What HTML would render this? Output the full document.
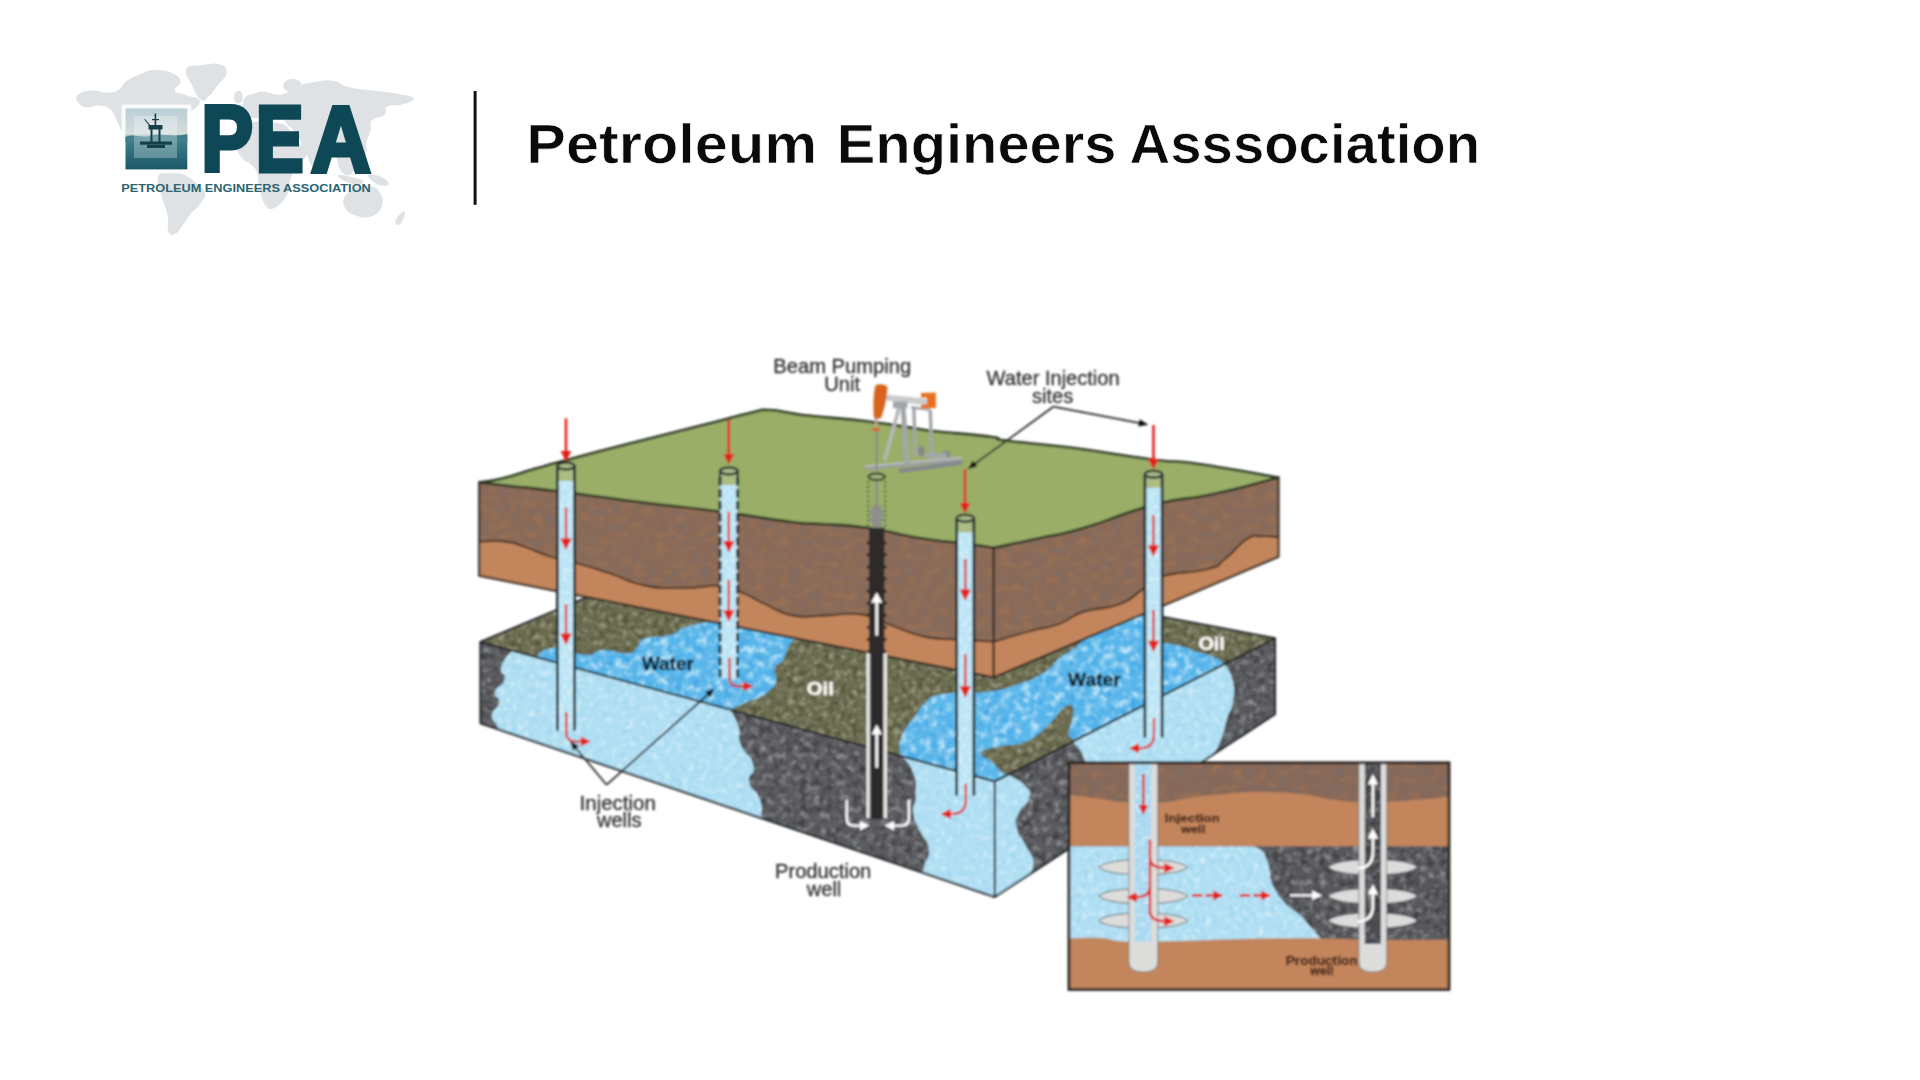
<!DOCTYPE html>
<html lang="en">
<head>
<meta charset="utf-8">
<title>Petroleum Engineers Asssociation</title>
<style>
html,body{margin:0;padding:0;background:#ffffff;}
body{width:1920px;height:1080px;overflow:hidden;font-family:"Liberation Sans",sans-serif;}
svg{display:block;position:absolute;left:0;top:0;}
</style>
</head>
<body>
<svg width="1920" height="1080" viewBox="0 0 1920 1080">
<defs><filter id="fBrown" x="-2%" y="-2%" width="104%" height="104%" color-interpolation-filters="sRGB"><feTurbulence type="fractalNoise" baseFrequency="0.09 0.13" numOctaves="3" seed="4" result="n"/><feColorMatrix in="n" type="matrix" values="0 0 0 0 0 0 0 0 0 0 0 0 0 0 0 2.2 0 0 0 -1.0" result="a"/><feFlood flood-color="#7d6d66" result="c"/><feComposite in="c" in2="a" operator="in" result="s1"/><feColorMatrix in="n" type="matrix" values="0 0 0 0 0 0 0 0 0 0 0 0 0 0 0 0 2.2 0 0 -1.05" result="a2"/><feFlood flood-color="#a07253" result="c2"/><feComposite in="c2" in2="a2" operator="in" result="s2"/><feMerge result="m"><feMergeNode in="SourceGraphic"/><feMergeNode in="s1"/><feMergeNode in="s2"/></feMerge><feComposite in="m" in2="SourceGraphic" operator="in"/></filter><filter id="fOlive" x="-2%" y="-2%" width="104%" height="104%" color-interpolation-filters="sRGB"><feTurbulence type="fractalNoise" baseFrequency="0.17" numOctaves="3" seed="7" result="n"/><feColorMatrix in="n" type="matrix" values="0 0 0 0 0 0 0 0 0 0 0 0 0 0 0 2.6 0 0 0 -1.2" result="a"/><feFlood flood-color="#a3a48c" result="c"/><feComposite in="c" in2="a" operator="in" result="s1"/><feColorMatrix in="n" type="matrix" values="0 0 0 0 0 0 0 0 0 0 0 0 0 0 0 0 2.4 0 0 -1.15" result="a2"/><feFlood flood-color="#4b4c36" result="c2"/><feComposite in="c2" in2="a2" operator="in" result="s2"/><feMerge result="m"><feMergeNode in="SourceGraphic"/><feMergeNode in="s1"/><feMergeNode in="s2"/></feMerge><feComposite in="m" in2="SourceGraphic" operator="in"/></filter><filter id="fGray" x="-2%" y="-2%" width="104%" height="104%" color-interpolation-filters="sRGB"><feTurbulence type="fractalNoise" baseFrequency="0.15" numOctaves="3" seed="11" result="n"/><feColorMatrix in="n" type="matrix" values="0 0 0 0 0 0 0 0 0 0 0 0 0 0 0 2.6 0 0 0 -1.22" result="a"/><feFlood flood-color="#96989d" result="c"/><feComposite in="c" in2="a" operator="in" result="s1"/><feColorMatrix in="n" type="matrix" values="0 0 0 0 0 0 0 0 0 0 0 0 0 0 0 0 2.4 0 0 -1.1" result="a2"/><feFlood flood-color="#38393c" result="c2"/><feComposite in="c2" in2="a2" operator="in" result="s2"/><feMerge result="m"><feMergeNode in="SourceGraphic"/><feMergeNode in="s1"/><feMergeNode in="s2"/></feMerge><feComposite in="m" in2="SourceGraphic" operator="in"/></filter><filter id="fBlue" x="-2%" y="-2%" width="104%" height="104%" color-interpolation-filters="sRGB"><feTurbulence type="fractalNoise" baseFrequency="0.13" numOctaves="3" seed="5" result="n"/><feColorMatrix in="n" type="matrix" values="0 0 0 0 0 0 0 0 0 0 0 0 0 0 0 2.8 0 0 0 -1.25" result="a"/><feFlood flood-color="#c2e8f9" result="c"/><feComposite in="c" in2="a" operator="in" result="s1"/><feColorMatrix in="n" type="matrix" values="0 0 0 0 0 0 0 0 0 0 0 0 0 0 0 0 2.2 0 0 -1.1" result="a2"/><feFlood flood-color="#3a9fe2" result="c2"/><feComposite in="c2" in2="a2" operator="in" result="s2"/><feMerge result="m"><feMergeNode in="SourceGraphic"/><feMergeNode in="s1"/><feMergeNode in="s2"/></feMerge><feComposite in="m" in2="SourceGraphic" operator="in"/></filter><filter id="fLBlue" x="-2%" y="-2%" width="104%" height="104%" color-interpolation-filters="sRGB"><feTurbulence type="fractalNoise" baseFrequency="0.17" numOctaves="3" seed="9" result="n"/><feColorMatrix in="n" type="matrix" values="0 0 0 0 0 0 0 0 0 0 0 0 0 0 0 2.4 0 0 0 -1.15" result="a"/><feFlood flood-color="#daf1fb" result="c"/><feComposite in="c" in2="a" operator="in" result="s1"/><feColorMatrix in="n" type="matrix" values="0 0 0 0 0 0 0 0 0 0 0 0 0 0 0 0 2.0 0 0 -1.0" result="a2"/><feFlood flood-color="#98d2ee" result="c2"/><feComposite in="c2" in2="a2" operator="in" result="s2"/><feMerge result="m"><feMergeNode in="SourceGraphic"/><feMergeNode in="s1"/><feMergeNode in="s2"/></feMerge><feComposite in="m" in2="SourceGraphic" operator="in"/></filter><filter id="fPipe" x="-2%" y="-2%" width="104%" height="104%" color-interpolation-filters="sRGB"><feTurbulence type="fractalNoise" baseFrequency="0.22" numOctaves="2" seed="2" result="n"/><feColorMatrix in="n" type="matrix" values="0 0 0 0 0 0 0 0 0 0 0 0 0 0 0 2.4 0 0 0 -1.15" result="a"/><feFlood flood-color="#e3f4fc" result="c"/><feComposite in="c" in2="a" operator="in" result="s1"/><feMerge result="m"><feMergeNode in="SourceGraphic"/><feMergeNode in="s1"/></feMerge><feComposite in="m" in2="SourceGraphic" operator="in"/></filter><linearGradient id="gSky" x1="0" y1="0" x2="0" y2="1"><stop offset="0" stop-color="#b9cfd6"/><stop offset="0.42" stop-color="#d6dddd"/><stop offset="0.5" stop-color="#3f7f8c"/><stop offset="1" stop-color="#1b5868"/></linearGradient><filter id="soft" filterUnits="userSpaceOnUse" x="440" y="330" width="1040" height="690"><feGaussianBlur stdDeviation="0.8"/></filter></defs>
<g fill="#dfe2e4"><path d="M77.5,95.3 C80.3,92.5 83.6,91.3 90.6,90.6 C97.6,90 100.9,92.7 107.5,92.5 C114.1,92.3 114.4,92.3 118.8,89.7 C123.1,87.1 121,85 126.3,81.3 C131.5,77.5 134.7,76.4 141.3,73.8 C147.8,71.1 147.4,70.2 154.4,70 C161.4,69.8 165.1,70.2 171.3,72.8 C177.4,75.4 179.8,77.1 180.6,81.3 C181.5,85.4 173.7,87.3 175,90.6 C176.3,93.9 180.6,93.1 186.3,95.3 C191.9,97.5 197.6,96.7 199.4,100 C201.1,103.3 198.1,105.9 193.8,109.4 C189.4,112.9 185.7,111.5 180.6,115 C175.6,118.5 174.8,120 172.2,124.4 C169.6,128.8 172.2,130 169.4,133.8 C166.5,137.5 162.6,136.8 160,140.3 C157.4,143.8 157.3,145 158.1,148.8 C159,152.5 163.8,153.6 163.8,156.3 C163.8,158.9 161.6,160 158.1,160 C154.6,160 151.8,155.4 148.8,156.3 C145.7,157.1 147.6,163.8 145,163.8 C142.4,163.8 141,160.2 137.5,156.3 C134,152.3 133.5,152.1 130,146.9 C126.5,141.6 125.6,139.9 122.5,133.8 C119.4,127.6 119.7,126.3 116.9,120.6 C114,114.9 114.7,112.9 110.3,109.4 C105.9,105.9 103.6,106.1 98.1,105.6 C92.7,105.2 91.5,108.2 86.9,107.5 C82.3,106.8 80.6,105.7 78.4,102.8 C76.3,100 74.7,98.2 77.5,95.3Z"/><path d="M186.3,69.1 C188.2,64 193.4,66.4 201.3,65.3 C209.1,64.2 214.1,62.6 220,64.4 C225.9,66.1 227,68 226.6,72.8 C226.1,77.6 222.3,79.5 218.1,85 C214,90.5 212.7,92.8 208.8,96.3 C204.8,99.8 205,102.2 201.3,100 C197.5,97.8 196.3,94.1 192.8,86.9 C189.3,79.7 184.3,74.1 186.3,69.1Z"/><path d="M158.1,176.9 C160.3,171 165.1,172.6 171.3,172.2 C177.4,171.8 178.3,172.2 184.4,175 C190.5,177.8 192.7,180 197.5,184.4 C202.3,188.8 204.6,188.9 205,193.8 C205.4,198.6 202.9,200.2 199.4,205 C195.9,209.8 193.9,209.6 190,214.4 C186.1,219.2 186,221 182.5,225.6 C179,230.2 178.3,232.8 175,234.1 C171.7,235.4 170.2,235.8 168.4,231.3 C166.7,226.7 169,222.3 167.5,214.4 C166,206.5 164.1,206.3 161.9,197.5 C159.7,188.8 155.9,182.8 158.1,176.9Z"/><path d="M242.5,126.3 C247.5,122.1 250.1,122.4 257.5,121.6 C264.9,120.7 267.4,121.2 274.4,122.5 C281.4,123.8 282.7,122.8 287.5,127.2 C292.3,131.6 290.2,136.2 295,141.3 C299.8,146.3 306.8,143.5 308.1,148.8 C309.4,154 304.6,157.2 300.6,163.8 C296.7,170.3 294.3,169.9 291.3,176.9 C288.2,183.9 291,186.8 287.5,193.8 C284,200.8 281.3,204 276.3,206.9 C271.2,209.7 269.9,210.3 265.9,205.9 C262,201.6 261.8,196.7 259.4,188.1 C257,179.6 260,176.8 255.6,169.4 C251.3,161.9 245.2,163.3 240.6,156.3 C236,149.3 235.5,146.4 235.9,139.4 C236.4,132.4 237.5,130.4 242.5,126.3Z"/><path d="M245.3,97.2 C247.9,93.9 250.3,94.7 254.7,93.4 C259.1,92.2 257.9,91.5 264.1,91.8 C270.3,92 273.3,95.8 281.3,94.4 C289.4,93 291.3,88.6 298.6,85.8 C305.8,83 304.3,83.6 312.3,82.4 C320.2,81.2 323.9,79.5 332.7,80.7 C341.5,81.9 339.5,85 349.9,87.4 C360.4,89.8 365.4,89.4 377.3,91 C389.3,92.6 392.6,92.6 401.1,94.4 C409.7,96.2 414.1,96.3 414.1,98.7 C414.1,101.1 407.3,102.9 401.1,104.7 C394.9,106.5 391.4,104 387.4,106.4 C383.5,108.8 387.7,111.8 384.1,115 C380.5,118.2 375.3,116.5 372.1,120.1 C368.9,123.7 371.7,125 370.4,130.4 C369,135.8 367.2,138 366.3,143.1 C365.3,148.3 368.4,147.3 366.3,152.5 C364.1,157.8 360.8,160.4 356.9,165.6 C352.9,170.9 353.3,174.1 349.4,175 C345.4,175.9 343.5,174.6 340,169.4 C336.5,164.1 338.3,158.2 334.4,152.5 C330.4,146.8 327.1,143.3 323.1,145 C319.2,146.8 320.1,155.2 317.5,160 C314.9,164.8 314.9,168.3 311.9,165.6 C308.8,163 308.3,156.6 304.4,148.8 C300.4,140.9 299.4,138 295,131.9 C290.6,125.8 288.7,127.3 285.6,122.5 C282.6,117.7 284.9,113.9 281.9,111.3 C278.8,108.6 277.3,109.9 272.5,111.3 C267.7,112.7 266.9,116.1 261.3,117.3 C255.6,118.4 252.3,118.6 248.1,116.3 C244,114 244.1,112 243.4,107.5 C242.8,103 242.7,100.5 245.3,97.2Z"/><path d="M285.6,81.3 C288.3,79.1 291.4,78.1 295,79 C298.6,79.9 301.7,82.2 301,85 C300.3,87.8 296.2,90.2 292.2,91 C288.2,91.8 285.3,90.7 283.8,88.4 C282.2,86.1 283,83.4 285.6,81.3Z"/><path d="M345.6,195.6 C348.9,191 353.1,189.4 358.8,187.2 C364.4,185 365.2,185.2 370,186.3 C374.8,187.3 376.5,187.5 379.4,191.9 C382.2,196.3 383.9,199.3 382.2,205 C380.4,210.7 378.2,213.8 371.9,216.3 C365.5,218.7 361.3,217.5 355,215.3 C348.7,213.1 346.9,211.5 344.7,206.9 C342.5,202.3 342.3,200.2 345.6,195.6Z"/><path d="M397.2,217.2 C399.2,214.1 403.6,210.5 404.7,211.6 C405.8,212.7 403.8,218.8 401.9,221.9 C399.9,224.9 397.3,225.8 396.3,224.7 C395.2,223.6 395.2,220.3 397.2,217.2Z"/><path d="M338.1,175 C339.4,173.9 345.6,175.6 351.3,176.9 C356.9,178.2 360.8,178.9 362.5,180.6 C364.3,182.4 362.7,184.2 358.8,184.4 C354.8,184.6 350.4,183.8 345.6,181.6 C340.8,179.4 336.8,176.1 338.1,175Z"/><path d="M368.1,175 C369,173.3 376.4,174.7 381.3,176.9 C386.1,179.1 389.6,182.6 388.8,184.4 C387.9,186.1 382.3,186.6 377.5,184.4 C372.7,182.2 367.3,176.8 368.1,175Z"/><path d="M235,93.4 C236.2,90.9 239.4,90 241,91.8 C242.6,93.5 243.2,98.4 241.9,100.9 C240.7,103.5 237.4,104.4 235.8,102.6 C234.1,100.9 233.8,96 235,93.4Z"/></g>
<rect x="121.6" y="104.6" width="69.6" height="68.8" fill="#ffffff" opacity="0.85"/>
<rect x="125.5" y="108.4" width="61.8" height="61" fill="url(#gSky)"/>
<path d="M125.5,137 C135,133 142,139 150,136 C160,132 170,138 187.3,134 L187.3,142 L125.5,142Z" fill="#3f7f8c"/>
<rect x="134" y="116" width="43" height="42" fill="#ffffff" opacity="0.28"/>
<g fill="#163f4a" stroke="none"><rect x="140" y="141.5" width="32" height="3.2"/><rect x="147" y="145" width="18" height="3"/><rect x="150.5" y="129" width="2" height="13"/><rect x="158.5" y="129" width="2" height="13"/><rect x="148.5" y="125" width="14" height="4.5"/><rect x="154.6" y="113.5" width="1.6" height="12"/><path d="M145,119 L150,125 L149,125.6 L144.2,119.6Z"/><rect x="152" y="119" width="7" height="1.2"/></g>
<text font-family="'Liberation Sans',sans-serif" font-weight="bold" font-size="92.7" fill="#0e4857" stroke="#0e4857" stroke-width="5.0"><tspan x="201.4" y="171" textLength="51.35" lengthAdjust="spacingAndGlyphs">P</tspan><tspan x="255.9" y="171" textLength="47.40" lengthAdjust="spacingAndGlyphs">E</tspan><tspan x="311.2" y="171" textLength="59.28" lengthAdjust="spacingAndGlyphs">A</tspan></text>
<text font-family="'Liberation Sans',sans-serif" font-weight="bold" font-size="10.9" fill="#2b6572"><tspan x="121.2" y="191.5" textLength="249.62" lengthAdjust="spacingAndGlyphs">PETROLEUM ENGINEERS ASSOCIATION</tspan></text>
<rect x="473.6" y="91" width="3" height="113.8" fill="#111"/>
<text font-family="'Liberation Sans',sans-serif" font-weight="bold" font-size="55" fill="#0a0a0a" stroke="#ffffff" stroke-width="0.7"><tspan x="526.3" y="163.3" textLength="290.85" lengthAdjust="spacingAndGlyphs">Petroleum</tspan> <tspan x="836.8" y="163.3" textLength="279.62" lengthAdjust="spacingAndGlyphs">Engineers</tspan> <tspan x="1129.6" y="163.3" textLength="350.49" lengthAdjust="spacingAndGlyphs">Asssociation</tspan></text>
<g id="diagram" filter="url(#soft)">
<path d="M480.4,642 L734,535.5 L1275,638.3 L994.8,781.5Z" fill="#6b6b4f" filter="url(#fOlive)"/>
<path d="M536.7,657.3 C537.8,655.9 537.9,654.2 541,652 C544.1,649.8 542.7,649.9 548.3,649 C553.9,648.1 551.8,646.9 562,648.5 C572.2,650.1 575.7,654.6 586.7,655 C597.7,655.4 592.2,650.5 603.3,650 C614.4,649.5 619,654.4 628.3,653.3 C637.6,652.2 633.5,650 638,646 C642.5,642 636.5,641.2 645,638.3 C653.5,635.4 658.9,638.1 670,635 C681.1,631.9 673.4,630.7 686.7,626.7 C700,622.7 700.5,623.9 720,620 C739.5,616.1 738.7,610.7 760,612 C781.3,613.3 792.3,615.9 800,625 C807.7,634.1 793.7,636.8 789,646.3 C784.3,655.8 786.2,655 782.5,660.8 C778.8,666.6 776.7,662.4 775,668 C773.3,673.6 777.6,675.8 776.3,681.7 C775,687.6 773.9,686.1 770,690 C766.1,693.9 768.4,692.8 761.7,696.3 C755,699.8 753.3,699.4 745,703 C736.7,706.6 734.3,708 730.4,709.8Z" fill="#58b6ea" filter="url(#fBlue)"/>
<path d="M900,755.8 C900,752.1 898.4,749.4 900,742 C901.6,734.6 901.8,735 906,728 C910.2,721 910.5,722.3 915.6,715.6 C920.7,708.9 918,708.7 925,703 C932,697.3 926.2,697.1 941.7,694.2 C957.2,691.3 963.3,694.5 983.3,692 C1003.3,689.5 1000,690.3 1016.7,684.8 C1033.4,679.3 1034.7,678.2 1045.8,671.3 C1056.9,664.4 1050,665.5 1058.3,658.8 C1066.6,652.1 1066.4,654.5 1077,646.3 C1087.6,638.1 1077.7,640.3 1098,628 C1118.3,615.7 1138.3,607.5 1153,600 L1153,642 C1156.2,642.2 1152.4,640.9 1162.5,642.5 C1172.6,644.1 1171.9,643.6 1183.3,646.7 C1194.7,649.8 1186.7,648.4 1196.7,651.7 C1206.7,655 1203.9,652.6 1213.3,656.7 C1222.7,660.8 1221.1,661.5 1225,663.9 L994.8,781.5 Z" fill="#58b6ea" filter="url(#fBlue)"/>
<path d="M981.3,752.5 C983.2,748.8 989.8,748.8 1000,746.3 C1010.2,743.8 1014.3,746.4 1025,742 C1035.7,737.6 1037,735.2 1045.8,727.5 C1054.5,719.8 1056.4,713.9 1062.5,708.8 C1068.6,703.7 1069.5,703.7 1071.9,705.6 C1074.3,707.5 1073.6,710.4 1072.9,717 C1072.2,723.6 1069.2,727.7 1068.8,733.8 C1068.4,739.9 1077.7,737.2 1071,743.1 C1064.3,748.9 1054.2,751.6 1040,758.9 C1025.8,766.2 1021.2,773.5 1010,774.2 C998.8,775 998.7,767.1 992,762 C985.3,756.9 979.4,756.2 981.3,752.5Z" fill="#6b6b4f" filter="url(#fOlive)"/>
<path d="M480.4,642 L994.8,781.5 L994.8,897 L480.4,723.3Z" fill="#5a5b5f" filter="url(#fGray)"/>
<path d="M511.7,650.5 C508.6,655.4 503.5,658.3 501.3,667 C499.1,675.7 506.3,672.1 504.4,679.6 C502.5,687.1 496.6,685.1 495,692 C493.4,698.9 500.1,695.6 499.2,702.5 C498.3,709.4 492.6,708.1 491.9,715 C491.2,721.9 495.5,721.2 497,725.4 C498.5,729.6 497,727.9 497,728.9 L762,818.4 C761.9,817.3 762.5,821.7 761.7,815 C760.9,808.3 763.8,809.4 759.6,798.3 C755.4,787.2 751.3,792.8 749.2,781.7 C747.1,770.6 756.1,777.5 753.3,765 C750.5,752.5 745.6,756.7 740.8,744.2 C736,731.7 742.3,739 738.8,727.5 C735.3,716 733.2,715.7 730.4,709.8Z" fill="#b0dff3" filter="url(#fLBlue)"/>
<path d="M902.2,756.4 C905.5,761.5 909.3,761.5 913.3,773.3 C917.3,785.1 915.6,783.6 915.6,795.6 C915.6,807.6 912,802.6 913.3,813.3 C914.6,823.9 915.3,820.4 920,831.1 C924.7,841.8 927.6,838.9 928.9,848.9 C930.2,858.9 926.2,857.2 924.4,864.4 C922.6,871.6 923.4,870.2 923,872.8 L994.8,897 L994.8,781.5 Z" fill="#b0dff3" filter="url(#fLBlue)"/>
<path d="M994.8,781.5 L1275,638.3 L1275,714.2 L994.8,897Z" fill="#5a5b5f" filter="url(#fGray)"/>
<path d="M1008.3,774.6 C1013.3,778 1018.8,778.7 1025,785.8 C1031.2,792.9 1030.9,790.1 1029,798.3 C1027.1,806.5 1022.5,804.2 1018.8,813 C1015.1,821.8 1014.8,818.1 1016.7,827.5 C1018.6,836.9 1020,834.2 1025,844.2 C1030,854.2 1031.8,851.8 1033.3,860.8 C1034.8,869.8 1031,870.1 1030,874 L994.8,897 L994.8,781.5 Z" fill="#b0dff3" filter="url(#fLBlue)"/>
<path d="M1225,663.9 C1227.2,668.7 1230,669.2 1232.5,680 C1235,690.8 1235,688 1233.3,700 C1231.6,712 1230.2,708.5 1226.7,720 C1223.2,731.5 1225.7,728.3 1221.7,738.3 C1217.7,748.3 1218.3,746.8 1213.3,753.3 C1208.3,759.8 1207.5,757.9 1205,759.9 L1085,838.2 C1083.3,822.1 1080.3,812.7 1080,790 C1079.7,767.3 1082.9,781.1 1084,770 C1085.1,758.9 1087,766.2 1083.3,756.7 C1079.6,747.2 1076.4,746.6 1072.9,741.6Z" fill="#b0dff3" filter="url(#fLBlue)"/>
<g fill="none" stroke="#1f2428" stroke-width="2" stroke-linejoin="round">
<path d="M480.4,642 L734,535.5 L1275,638.3 L1275,714.2 L994.8,897 L480.4,723.3Z"/>
<path d="M480.4,642 L994.8,781.5 L1275,638.3"/>
<path d="M994.8,781.5 L994.8,897"/>
</g>
<path d="M479.2,482.5 C487.4,483.4 490.2,483.8 510,486 C529.8,488.2 519.5,486.6 553.3,490.8 C587.1,495 592.2,496.1 636.7,501.7 C681.2,507.3 679.1,506.4 720,511.7 C760.9,517 763.3,518.4 790,521.7 C816.7,525 799.5,522.4 820,524 C840.5,525.6 840.6,524.1 866.7,527.8 C892.8,531.5 892.9,533.7 917.8,537.8 C942.7,541.9 939.8,540.3 960,543 C980.2,545.7 984.6,546.5 993.6,547.8 L993.6,547.8 L993.6,677.5 L993.6,677.5 L479.2,575.8Z" fill="#c3855c"/>
<path d="M479.2,482.5 C487.4,483.4 490.2,483.8 510,486 C529.8,488.2 519.5,486.6 553.3,490.8 C587.1,495 592.2,496.1 636.7,501.7 C681.2,507.3 679.1,506.4 720,511.7 C760.9,517 763.3,518.4 790,521.7 C816.7,525 799.5,522.4 820,524 C840.5,525.6 840.6,524.1 866.7,527.8 C892.8,531.5 892.9,533.7 917.8,537.8 C942.7,541.9 939.8,540.3 960,543 C980.2,545.7 984.6,546.5 993.6,547.8 L993.6,641.7 C982.4,641 982.5,641.1 960,639.5 C937.5,637.9 948.3,641.5 926,637 C903.7,632.5 914.3,633.5 893,626 C871.7,618.5 884.3,618 862,614.5 C839.7,611 849,615.2 826,615.5 C803,615.8 813.3,619.3 793,615.5 C772.7,611.7 781,611.2 765,604 C749,596.8 759.3,600 745,594 C730.7,588 742,588 722,586 C702,584 710.7,588.2 685,588 C659.3,587.8 670,590.3 645,585.5 C620,580.7 633,581 610,573.5 C587,566 596,568.7 576,563 C556,557.3 567,561.8 550,556.5 C533,551.2 540,552 525,547 C510,542 520.3,543.3 505,541.5 C489.7,539.7 487.8,541.6 479.2,541.7Z" fill="#8b6b58" filter="url(#fBrown)"/>
<path d="M993.6,547.8 C1006,545.2 1016.1,543.3 1040,538 C1063.9,532.7 1058.5,535.2 1083.3,528 C1108.1,520.8 1110.8,518 1133,511 C1155.2,504 1144.4,506.4 1166.7,501.7 C1189,497 1186.9,499.8 1216.7,493.3 C1246.5,486.8 1262,481.7 1278.5,477.5 L1278.5,477.5 L1278.5,556.7 L1278.5,556.7 L993.6,677.5Z" fill="#c3855c"/>
<path d="M993.6,547.8 C1006,545.2 1016.1,543.3 1040,538 C1063.9,532.7 1058.5,535.2 1083.3,528 C1108.1,520.8 1110.8,518 1133,511 C1155.2,504 1144.4,506.4 1166.7,501.7 C1189,497 1186.9,499.8 1216.7,493.3 C1246.5,486.8 1262,481.7 1278.5,477.5 L1278.5,537.2 C1272.7,536.9 1271.5,535.7 1261,536.3 C1250.5,536.9 1258.7,531.6 1246.9,539 C1235.1,546.4 1238.6,548.4 1225.6,558.4 C1212.6,568.4 1228.7,563.1 1208,569 C1187.3,574.9 1184.9,569.5 1163.6,576 C1142.3,582.5 1158.9,579 1144,588.5 C1129.1,598 1139,596.8 1119,604.5 C1099,612.2 1104,605.1 1084,611.6 C1064,618.1 1076.7,617.5 1059,624 C1041.3,630.5 1052.6,625.1 1030.8,631 C1009,636.9 1006,638.1 993.6,641.7Z" fill="#8b6b58" filter="url(#fBrown)"/>
<path d="M479.2,482.5 C485.6,481.4 488,482.1 503.3,478.3 C518.6,474.5 518,473.6 536.7,468.3 C555.4,463 546.6,465.4 573.3,458.3 C600,451.2 602,450.6 636.7,441.7 C671.4,432.8 673.1,432.7 703.3,425 C733.5,417.3 732.7,417 750,413 C767.3,409 757.3,410 768,410 C778.7,410 778.8,411.5 790,413 C801.2,414.5 788.7,413.5 810,415.8 C831.3,418.1 840.7,418.1 870,421.7 C899.3,425.3 902.7,426.6 920,429.2 C937.3,431.8 916.3,429.3 935,431.3 C953.7,433.3 970.9,434.2 990,436.7 C1009.1,439.2 985.4,437.9 1006.7,440.8 C1028,443.7 1031.8,442.6 1070,447.5 C1108.2,452.4 1115.3,454.7 1150,459.2 C1184.7,463.7 1165.7,459.3 1200,464.2 C1234.3,469.1 1257.6,474 1278.5,477.5 L1278.5,477.5 C1257.9,482.8 1254,485.2 1216.7,493.3 C1179.4,501.4 1194.6,495.8 1166.7,501.7 C1138.8,507.6 1160.8,502.2 1133,511 C1105.2,519.8 1114.3,519 1083.3,528 C1052.3,537 1069.9,531.4 1040,538 C1010.1,544.6 1009.1,544.5 993.6,547.8 L993.6,547.8 C982.4,546.2 985.3,546.3 960,543 C934.7,539.7 948.9,542.9 917.8,537.8 C886.7,532.7 899.3,532.4 866.7,527.8 C834.1,523.2 845.6,526 820,524 C794.4,522 823.3,525.8 790,521.7 C756.7,517.6 771.1,518.4 720,511.7 C668.9,505 692.3,508.7 636.7,501.7 C581.1,494.7 595.5,496 553.3,490.8 C511.1,485.6 534.7,488.8 510,486 C485.3,483.2 489.5,483.7 479.2,482.5Z" fill="#9aae67"/>
<g fill="none" stroke="#2a2620" stroke-width="2.1" stroke-linejoin="round" stroke-linecap="round">
<path d="M479.2,482.5 C485.6,481.4 488,482.1 503.3,478.3 C518.6,474.5 518,473.6 536.7,468.3 C555.4,463 546.6,465.4 573.3,458.3 C600,451.2 602,450.6 636.7,441.7 C671.4,432.8 673.1,432.7 703.3,425 C733.5,417.3 732.7,417 750,413 C767.3,409 757.3,410 768,410 C778.7,410 778.8,411.5 790,413 C801.2,414.5 788.7,413.5 810,415.8 C831.3,418.1 840.7,418.1 870,421.7 C899.3,425.3 902.7,426.6 920,429.2 C937.3,431.8 916.3,429.3 935,431.3 C953.7,433.3 970.9,434.2 990,436.7 C1009.1,439.2 985.4,437.9 1006.7,440.8 C1028,443.7 1031.8,442.6 1070,447.5 C1108.2,452.4 1115.3,454.7 1150,459.2 C1184.7,463.7 1165.7,459.3 1200,464.2 C1234.3,469.1 1257.6,474 1278.5,477.5 L1278.5,477.5 C1257.9,482.8 1254,485.2 1216.7,493.3 C1179.4,501.4 1194.6,495.8 1166.7,501.7 C1138.8,507.6 1160.8,502.2 1133,511 C1105.2,519.8 1114.3,519 1083.3,528 C1052.3,537 1069.9,531.4 1040,538 C1010.1,544.6 1009.1,544.5 993.6,547.8 L993.6,547.8 C982.4,546.2 985.3,546.3 960,543 C934.7,539.7 948.9,542.9 917.8,537.8 C886.7,532.7 899.3,532.4 866.7,527.8 C834.1,523.2 845.6,526 820,524 C794.4,522 823.3,525.8 790,521.7 C756.7,517.6 771.1,518.4 720,511.7 C668.9,505 692.3,508.7 636.7,501.7 C581.1,494.7 595.5,496 553.3,490.8 C511.1,485.6 534.7,488.8 510,486 C485.3,483.2 489.5,483.7 479.2,482.5Z" stroke-width="2.6" stroke="#2c3520"/>
<path d="M479.2,482.5 L479.2,575.8 L993.6,677.5 L1278.5,556.7 L1278.5,477.5"/>
<path d="M993.6,547.8 L993.6,677.5"/>
<path d="M479.2,541.7 C486.1,541.6 492.8,540.1 505,541.5 C517.2,542.9 513,543 525,547 C537,551 536.4,552.2 550,556.5 C563.6,560.8 560,558.5 576,563 C592,567.5 591.6,567.5 610,573.5 C628.4,579.5 625,581.6 645,585.5 C665,589.4 664.5,587.9 685,588 C705.5,588.1 706,584.4 722,586 C738,587.6 733.5,589.2 745,594 C756.5,598.8 752.2,598.3 765,604 C777.8,609.7 776.7,612.4 793,615.5 C809.3,618.6 807.6,615.8 826,615.5 C844.4,615.2 844.1,611.7 862,614.5 C879.9,617.3 875.9,620 893,626 C910.1,632 908.1,633.4 926,637 C943.9,640.6 942,638.2 960,639.5 C978,640.8 984.6,641.1 993.6,641.7" stroke-width="1.8" stroke="#3a2a1e"/>
<path d="M993.6,641.7 C1003.5,638.8 1013.4,635.7 1030.8,631 C1048.2,626.3 1044.8,629.2 1059,624 C1073.2,618.8 1068,616.8 1084,611.6 C1100,606.4 1103,610.7 1119,604.5 C1135,598.3 1132.1,596.1 1144,588.5 C1155.9,580.9 1146.5,581.2 1163.6,576 C1180.7,570.8 1191.5,573.7 1208,569 C1224.5,564.3 1215.2,566.4 1225.6,558.4 C1236,550.4 1237.5,544.9 1246.9,539 C1256.3,533.1 1252.6,536.8 1261,536.3 C1269.4,535.8 1273.8,537 1278.5,537.2" stroke-width="1.8" stroke="#3a2a1e"/>
</g>
<g>
<rect x="866.6" y="651" width="20.2" height="167" fill="#f4f4f2"/>
<rect x="870.2" y="651" width="13" height="168" fill="#2b2929"/>
<rect x="869.3" y="651" width="1" height="167" fill="#8a8a88"/><rect x="883.2" y="651" width="1" height="167" fill="#8a8a88"/>
<rect x="869" y="527.5" width="15.4" height="126" fill="#2d2b2b"/>
<rect x="866.6" y="541" width="20.2" height="3.4" rx="1.6" fill="#2d2b2b"/><rect x="866.6" y="553.1" width="20.2" height="3.4" rx="1.6" fill="#2d2b2b"/><rect x="866.6" y="565.2" width="20.2" height="3.4" rx="1.6" fill="#2d2b2b"/><rect x="866.6" y="577.3" width="20.2" height="3.4" rx="1.6" fill="#2d2b2b"/><rect x="866.6" y="589.4" width="20.2" height="3.4" rx="1.6" fill="#2d2b2b"/><rect x="866.6" y="601.5" width="20.2" height="3.4" rx="1.6" fill="#2d2b2b"/><rect x="866.6" y="613.6" width="20.2" height="3.4" rx="1.6" fill="#2d2b2b"/><rect x="866.6" y="625.7" width="20.2" height="3.4" rx="1.6" fill="#2d2b2b"/><rect x="866.6" y="637.8" width="20.2" height="3.4" rx="1.6" fill="#2d2b2b"/><rect x="866.6" y="649.9" width="20.2" height="3.4" rx="1.6" fill="#2d2b2b"/>
<path d="M872,505.5 h9.4 v5 h2.6 v4 h-2.6 v3 h3 v4 h-3 v6 h-9.4 v-6 h-3 v-4 h3 v-3 h-2.6 v-4 h2.6z" fill="#8d8f8d"/>
<path d="M876.7,478 V506" stroke="#8c8e8c" stroke-width="2.4"/>
<path d="M868.2,481 V527 M885.2,481 V527" stroke="#55603f" stroke-width="1.8" stroke-dasharray="2.2 2.6" fill="none"/>
<ellipse cx="876.7" cy="476.8" rx="8.3" ry="3.1" fill="#a3b582" stroke="#33422a" stroke-width="2.3"/>
<path d="M876.7,635.6 L876.7,601.7" stroke="#ffffff" stroke-width="2.6" fill="none"/><path d="M871,602.7 L882.5,602.7 L876.7,592.2Z" fill="#ffffff"/>
<path d="M876.7,767.8 L876.7,733.4" stroke="#ffffff" stroke-width="2.6" fill="none"/><path d="M871.5,734.4 L882,734.4 L876.7,724.4Z" fill="#ffffff"/>
<path d="M846.7,800 L846.7,818.6 Q846.7,825.6 853.7,825.6 L861,825.6" stroke="#ffffff" stroke-width="2.4" fill="none"/><path d="M860,830.4 L860,820.9 L869.5,825.6Z" fill="#ffffff"/>
<path d="M908.9,800 L908.9,818.6 Q908.9,825.6 901.9,825.6 L893.1,825.6" stroke="#ffffff" stroke-width="2.4" fill="none"/><path d="M894.1,820.9 L894.1,830.4 L884.6,825.6Z" fill="#ffffff"/>
</g>
<g>
<rect x="557.4" y="466" width="17.2" height="14.8" fill="#ffffff" opacity="0.18"/><rect x="557.4" y="480.8" width="17.2" height="249.8" fill="#bbe4f5" filter="url(#fPipe)"/><path d="M557.4,466 L557.4,730.6 M574.6,466 L574.6,730.6" stroke="#1c2b31" stroke-width="2.7" fill="none"/><ellipse cx="566" cy="466" rx="8.6" ry="3.4" fill="#a9b98a" stroke="#20282a" stroke-width="2.3"/>
<path d="M566,418.3 L566,452" stroke="#e2231e" stroke-width="2.6" fill="none"/><path d="M560.5,451 L571.5,451 L566,461.5Z" fill="#e2231e"/>
<path d="M566,507.5 L566,539.5" stroke="#e2231e" stroke-width="2.3" fill="none"/><path d="M560.2,538.5 L571.8,538.5 L566,550Z" fill="#e2231e"/>
<path d="M566,604.2 L566,634.5" stroke="#e2231e" stroke-width="2.3" fill="none"/><path d="M560.2,633.5 L571.8,633.5 L566,645Z" fill="#e2231e"/>
<path d="M566.3,711.9 L566.3,732.5 Q566.3,741.5 575.3,741.5 L581.8,741.5" stroke="#e2231e" stroke-width="2.2" fill="none"/><path d="M580.8,746.5 L580.8,736.5 L590.8,741.5Z" fill="#e2231e"/>
<rect x="720" y="471" width="17.6" height="14" fill="#ffffff" opacity="0.18"/><rect x="720" y="485" width="17.6" height="193.5" fill="#bbe4f5" filter="url(#fPipe)"/><path d="M720,477 L720,678.5 M737.6,477 L737.6,678.5" stroke="#25343b" stroke-width="3" stroke-dasharray="8.5 3.5" fill="none"/><path d="M720,471 L720,477 M737.6,471 L737.6,477" stroke="#1c2b31" stroke-width="2" fill="none"/><ellipse cx="728.8" cy="471" rx="8.8" ry="3.4" fill="#a9b98a" stroke="#20282a" stroke-width="2.3"/>
<path d="M728.8,420 L728.8,455" stroke="#e2231e" stroke-width="2.6" fill="none"/><path d="M723.3,454 L734.3,454 L728.8,464.5Z" fill="#e2231e"/>
<path d="M728.8,511.7 L728.8,542" stroke="#e2231e" stroke-width="2.3" fill="none"/><path d="M723,541 L734.5,541 L728.8,552.5Z" fill="#e2231e"/>
<path d="M728.8,580 L728.8,611.2" stroke="#e2231e" stroke-width="2.3" fill="none"/><path d="M723,610.2 L734.5,610.2 L728.8,621.7Z" fill="#e2231e"/>
<path d="M729.4,657.7 L729.4,677.3 Q729.4,686.3 738.4,686.3 L744.3,686.3" stroke="#e2231e" stroke-width="2.2" fill="none"/><path d="M743.3,691.3 L743.3,681.3 L753.3,686.3Z" fill="#e2231e"/>
<rect x="956.7" y="518.2" width="17.2" height="14" fill="#ffffff" opacity="0.18"/><rect x="956.7" y="532.2" width="17.2" height="263.4" fill="#bbe4f5" filter="url(#fPipe)"/><path d="M956.7,518.2 L956.7,795.6 M973.9,518.2 L973.9,795.6" stroke="#1c2b31" stroke-width="2.7" fill="none"/><ellipse cx="965.3" cy="518.2" rx="8.6" ry="3.4" fill="#a9b98a" stroke="#20282a" stroke-width="2.3"/>
<path d="M965,469.2 L965,504" stroke="#e2231e" stroke-width="2.6" fill="none"/><path d="M959.5,503 L970.5,503 L965,513.5Z" fill="#e2231e"/>
<path d="M965.3,558.9 L965.3,590.6" stroke="#e2231e" stroke-width="2.3" fill="none"/><path d="M959.5,589.6 L971,589.6 L965.3,601.1Z" fill="#e2231e"/>
<path d="M965.3,654.4 L965.3,687.3" stroke="#e2231e" stroke-width="2.3" fill="none"/><path d="M959.5,686.3 L971,686.3 L965.3,697.8Z" fill="#e2231e"/>
<path d="M965.8,783.8 L965.8,800 Q965.8,814 951.8,814 L949.6,814" stroke="#e2231e" stroke-width="2.2" fill="none"/><path d="M950.6,809 L950.6,819 L940.6,814Z" fill="#e2231e"/>
<rect x="1144.9" y="474.2" width="17.2" height="13.3" fill="#ffffff" opacity="0.18"/><rect x="1144.9" y="487.5" width="17.2" height="250" fill="#bbe4f5" filter="url(#fPipe)"/><path d="M1144.9,474.2 L1144.9,737.5 M1162.1,474.2 L1162.1,737.5" stroke="#1c2b31" stroke-width="2.7" fill="none"/><ellipse cx="1153.5" cy="474.2" rx="8.6" ry="3.4" fill="#a9b98a" stroke="#20282a" stroke-width="2.3"/>
<path d="M1153.5,425 L1153.5,460" stroke="#e2231e" stroke-width="2.6" fill="none"/><path d="M1148,459 L1159,459 L1153.5,469.5Z" fill="#e2231e"/>
<path d="M1153.5,515 L1153.5,546.2" stroke="#e2231e" stroke-width="2.3" fill="none"/><path d="M1147.8,545.2 L1159.2,545.2 L1153.5,556.7Z" fill="#e2231e"/>
<path d="M1153.5,609.8 L1153.5,641.8" stroke="#e2231e" stroke-width="2.3" fill="none"/><path d="M1147.8,640.8 L1159.2,640.8 L1153.5,652.3Z" fill="#e2231e"/>
<path d="M1154,718 L1154,734.3 Q1154,748.3 1140,748.3 L1138,748.3" stroke="#e2231e" stroke-width="2.2" fill="none"/><path d="M1139,743.3 L1139,753.3 L1129,748.3Z" fill="#e2231e"/>
</g>
<g>
<path d="M865,465.4 L961.7,456.8 L961.9,461.2 L865.2,470Z" fill="#9b9ea0"/>
<path d="M865,465.4 L961.7,456.8 L961.8,458.4 L865.1,467Z" fill="#bfc1c2"/>
<path d="M899,468.8 L962.5,460.6 L962.7,464.8 L899.2,473.2Z" fill="#85888a"/>
<path d="M912.2,408 L915.6,408 L917.2,457 L913.6,457Z" fill="#a3a6a8"/><path d="M928.6,410 L932,410 L933.4,455.5 L930,455.5Z" fill="#a3a6a8"/>
<ellipse cx="921.5" cy="451" rx="3.4" ry="5.4" fill="#85888a"/><ellipse cx="946" cy="454.5" rx="4.6" ry="3.8" fill="#85888a"/><rect x="925" y="453" width="22" height="5" fill="#a3a6a8"/>
<path d="M897.6,406 L901.5,406 L886.4,460.5 L883,460Z" fill="#b4b7b9"/>
<path d="M900.5,406 L905.5,406 L909.5,463.5 L904,463.5Z" fill="#a3a6a8"/>
<path d="M886,394.5 L927,398.8 L926.6,405.2 L885.6,400.6Z" fill="#c9cbcc"/>
<rect x="893" y="401.5" width="14.5" height="6.8" fill="#a3a6a8"/>
<path d="M911,406 L930,408.2 L930,411 L911,408.8Z" fill="#a3a6a8"/>
<path d="M921,393 L935.8,392.4 L936,408 L921.2,408.6 L921.2,404.6 L927,404.4 L927,397.6 L921,397.8Z" fill="#e8701f"/>
<path d="M875.4,385.4 C878.5,383.4 885.4,383.8 887.4,386.8 C887.2,397.5 884.2,410.5 880.6,418.4 L874.2,419 C872.8,408 873.2,395 875.4,385.4Z" fill="#d9641d"/>
<path d="M876.3,418 V427" stroke="#b9a58e" stroke-width="2.6"/><rect x="872.4" y="428" width="7.6" height="3" fill="#d9641d"/>
<path d="M876.5,431 V473" stroke="#8b8e8a" stroke-width="2"/>
</g>
<text font-family="'Liberation Sans',sans-serif" font-size="19.4" font-weight="normal" fill="#363636" stroke="#363636" stroke-width="0.35"><tspan x="773.3" y="373.3" textLength="137.97" lengthAdjust="spacingAndGlyphs">Beam Pumping</tspan> <tspan x="824.2" y="390.8" textLength="35.94" lengthAdjust="spacingAndGlyphs">Unit</tspan></text>
<text font-family="'Liberation Sans',sans-serif" font-size="19.4" font-weight="normal" fill="#363636" stroke="#363636" stroke-width="0.35"><tspan x="986.6" y="385" textLength="133.01" lengthAdjust="spacingAndGlyphs">Water Injection</tspan> <tspan x="1031.9" y="403.3" textLength="41.28" lengthAdjust="spacingAndGlyphs">sites</tspan></text>
<text font-family="'Liberation Sans',sans-serif" font-size="19.4" font-weight="normal" fill="#363636" stroke="#363636" stroke-width="0.35"><tspan x="579.6" y="809.8" textLength="76.17" lengthAdjust="spacingAndGlyphs">Injection</tspan> <tspan x="597" y="826.5" textLength="44.51" lengthAdjust="spacingAndGlyphs">wells</tspan></text>
<text font-family="'Liberation Sans',sans-serif" font-size="19.4" font-weight="normal" fill="#363636" stroke="#363636" stroke-width="0.35"><tspan x="775" y="877.8" textLength="96.29" lengthAdjust="spacingAndGlyphs">Production</tspan> <tspan x="806.7" y="895.6" textLength="34.66" lengthAdjust="spacingAndGlyphs">well</tspan></text>
<text font-family="'Liberation Sans',sans-serif" font-size="18.6" font-weight="bold" fill="#0e1a24" stroke="#0e1a24" stroke-width="0.35"><tspan x="641.7" y="670" textLength="52.31" lengthAdjust="spacingAndGlyphs">Water</tspan></text>
<text font-family="'Liberation Sans',sans-serif" font-size="18.6" font-weight="bold" fill="#0e1a24" stroke="#0e1a24" stroke-width="0.35"><tspan x="1068" y="686" textLength="52.81" lengthAdjust="spacingAndGlyphs">Water</tspan></text>
<text font-family="'Liberation Sans',sans-serif" font-size="18.6" font-weight="bold" fill="#fbfbf6" stroke="#fbfbf6" stroke-width="0.35"><tspan x="806.8" y="695" textLength="27.05" lengthAdjust="spacingAndGlyphs">Oil</tspan></text>
<text font-family="'Liberation Sans',sans-serif" font-size="18.6" font-weight="bold" fill="#fbfbf6" stroke="#fbfbf6" stroke-width="0.35"><tspan x="1198.4" y="650.2" textLength="26.51" lengthAdjust="spacingAndGlyphs">Oil</tspan></text>
<path d="M1053.3,406.7 L974.4,464.2" stroke="#262626" stroke-width="1.7" fill="none"/><path d="M973,460.6 L977.4,466.6 L967.5,469.2Z" fill="#111"/>
<path d="M1053.3,406.7 L1139.9,423.1" stroke="#262626" stroke-width="1.7" fill="none"/><path d="M1138.3,426.6 L1139.7,419.2 L1148.3,424.7Z" fill="#111"/>
<path d="M606.5,784.8 L575.4,747.5" stroke="#262626" stroke-width="1.7" fill="none"/><path d="M579,745.9 L573.2,750.7 L570,741Z" fill="#111"/>
<path d="M606.5,784.8 L708.5,694" stroke="#262626" stroke-width="1.7" fill="none"/><path d="M710.2,697.4 L705.2,691.8 L714.8,688.3Z" fill="#111"/>
<g>
<clipPath id="insetClip"><rect x="1069" y="762.8" width="380" height="226.6"/></clipPath>
<g clip-path="url(#insetClip)">
<rect x="1069" y="762.8" width="380" height="226.6" fill="#c3855c"/>
<path d="M1069,795 C1077.3,796.1 1084.5,796.9 1100,799 C1115.5,801.1 1111,801.8 1127,802.8 C1143,803.8 1136.5,804.9 1160,802.8 C1183.5,800.7 1182.5,797.7 1215,795 C1247.5,792.3 1246.3,791 1282,792.8 C1317.7,794.6 1319.4,799.3 1349,801.7 C1378.6,804.1 1366.3,803 1393,801.7 C1419.7,800.4 1434.1,798.3 1449,797 L1449,762.8 L1069,762.8Z" fill="#86695a" filter="url(#fBrown)"/>
<rect x="1069" y="846.2" width="380" height="105.8" fill="#58595d" filter="url(#fGray)"/>
<path d="M1069,846.2 L1253.3,846.2 C1256.2,847.8 1257.5,846.6 1262,851 C1266.5,855.4 1264.2,853.4 1266.7,859.4 C1269.2,865.4 1268.1,862.3 1269.5,869 C1270.9,875.7 1269,872.4 1271,879.4 C1273,886.4 1271.8,883.3 1275.5,890 C1279.2,896.7 1277.2,893.6 1282,899.4 C1286.8,905.2 1284,902.3 1290,907.5 C1296,912.7 1293.7,909.2 1300,915 C1306.3,920.8 1303.1,918.3 1309,925 C1314.9,931.7 1312.8,929.3 1317.8,935 C1322.8,940.7 1319.9,936.3 1324,942 C1328.1,947.7 1328,948.7 1330,952 L1069,952Z" fill="#b0dff3" filter="url(#fLBlue)"/>
<path d="M1069,938.5 C1077.3,938.4 1084.5,937.2 1100,938 C1115.5,938.8 1105.7,940.7 1127,941.5 C1148.3,942.3 1149.9,941.7 1180,941 C1210.1,940.3 1202.7,939.7 1240,939 C1277.3,938.3 1282.7,938.2 1320,938.5 C1357.3,938.8 1345.6,939.8 1380,940 C1414.4,940.2 1430.6,939.6 1449,939.4 L1449,989.4 L1069,989.4Z" fill="#c3855c"/>
<path d="M1098.8,867.2 C1105,861.7 1123.3,859.6 1143.3,859.6 C1163.3,859.6 1181.6,861.7 1187.8,867.2 C1181.6,872.7 1163.3,874.8 1143.3,874.8 C1123.3,874.8 1105,872.7 1098.8,867.2Z" fill="#dcdddb" stroke="#55585b" stroke-width="0.9"/>
<path d="M1098.8,896.1 C1105,890.6 1123.3,888.5 1143.3,888.5 C1163.3,888.5 1181.6,890.6 1187.8,896.1 C1181.6,901.6 1163.3,903.7 1143.3,903.7 C1123.3,903.7 1105,901.6 1098.8,896.1Z" fill="#dcdddb" stroke="#55585b" stroke-width="0.9"/>
<path d="M1098.8,920.6 C1105,915.1 1123.3,913 1143.3,913 C1163.3,913 1181.6,915.1 1187.8,920.6 C1181.6,926.1 1163.3,928.2 1143.3,928.2 C1123.3,928.2 1105,926.1 1098.8,920.6Z" fill="#dcdddb" stroke="#55585b" stroke-width="0.9"/>
<path d="M1128.9,762.8 V962 Q1128.9,972 1143.3,972 Q1157.8,972 1157.8,962 V762.8Z" fill="#dcdddb" stroke="#6d7072" stroke-width="0.8"/>
<rect x="1134.6" y="762.8" width="16.6" height="178.9" fill="#a8d8f0" filter="url(#fPipe)"/>
<path d="M1328.3,867.2 C1334.5,861.7 1352.8,859.6 1372.8,859.6 C1392.8,859.6 1411.1,861.7 1417.3,867.2 C1411.1,872.7 1392.8,874.8 1372.8,874.8 C1352.8,874.8 1334.5,872.7 1328.3,867.2Z" fill="#dcdddb" stroke="#55585b" stroke-width="0.9"/>
<path d="M1328.3,896.1 C1334.5,890.6 1352.8,888.5 1372.8,888.5 C1392.8,888.5 1411.1,890.6 1417.3,896.1 C1411.1,901.6 1392.8,903.7 1372.8,903.7 C1352.8,903.7 1334.5,901.6 1328.3,896.1Z" fill="#dcdddb" stroke="#55585b" stroke-width="0.9"/>
<path d="M1328.3,920.6 C1334.5,915.1 1352.8,913 1372.8,913 C1392.8,913 1411.1,915.1 1417.3,920.6 C1411.1,926.1 1392.8,928.2 1372.8,928.2 C1352.8,928.2 1334.5,926.1 1328.3,920.6Z" fill="#dcdddb" stroke="#55585b" stroke-width="0.9"/>
<path d="M1358.9,762.8 V962 Q1358.9,972 1372.8,972 Q1386.7,972 1386.7,962 V762.8Z" fill="#dcdddb" stroke="#6d7072" stroke-width="0.8"/>
<rect x="1364.6" y="762.8" width="16.4" height="181.1" fill="#4b4d51" filter="url(#fGray)"/>
<path d="M1143.3,773.9 L1143.3,806" stroke="#e2231e" stroke-width="2.4" fill="none"/><path d="M1138.3,805 L1148.3,805 L1143.3,815Z" fill="#e2231e"/>
<path d="M1150,839.4 V915 M1150,858 Q1150,867.9 1165,867.9 M1150,886 Q1150,897.2 1136,897.2 M1150,911 Q1150,921.2 1165,921.2" stroke="#e2231e" stroke-width="2.4" fill="none"/>
<path d="M1164.4,872.9 L1164.4,862.9 L1174.4,867.9Z" fill="#e2231e"/>
<path d="M1136.7,892.2 L1136.7,902.2 L1126.7,897.2Z" fill="#e2231e"/>
<path d="M1164.4,926.2 L1164.4,916.2 L1174.4,921.2Z" fill="#e2231e"/>
<path d="M1192.2,895.4 L1214.3,895.4" stroke="#e2231e" stroke-width="2.6" fill="none" stroke-dasharray="10 3.5"/><path d="M1213.3,890.4 L1213.3,900.4 L1223.3,895.4Z" fill="#e2231e"/>
<path d="M1240,895.4 L1262.1,895.4" stroke="#e2231e" stroke-width="2.6" fill="none" stroke-dasharray="10 3.5"/><path d="M1261.1,890.4 L1261.1,900.4 L1271.1,895.4Z" fill="#e2231e"/>
<path d="M1290,895.4 L1313.2,895.4" stroke="#ffffff" stroke-width="2.4" fill="none"/><path d="M1312.2,890.6 L1312.2,900.1 L1322.2,895.4Z" fill="#ffffff"/>
<path d="M1372.9,817.2 L1372.9,783.4" stroke="#ffffff" stroke-width="2.6" fill="none"/><path d="M1367.7,784.4 L1378.2,784.4 L1372.9,773.9Z" fill="#ffffff"/>
<path d="M1357.5,868.3 Q1372.9,868 1372.9,852 V838" stroke="#fff" stroke-width="2.6" fill="none"/>
<path d="M1378.2,838.8 L1367.7,838.8 L1372.9,828.3Z" fill="#ffffff"/>
<path d="M1357.5,921.6 Q1372.9,921 1372.9,906 V893" stroke="#fff" stroke-width="2.6" fill="none"/>
<path d="M1378.2,894.4 L1367.7,894.4 L1372.9,883.9Z" fill="#ffffff"/>
</g>
<text font-family="'Liberation Sans',sans-serif" font-size="11.4" font-weight="bold" fill="#4a2c1c" stroke="#4a2c1c" stroke-width="0.35"><tspan x="1164.7" y="821.7" textLength="55.03" lengthAdjust="spacingAndGlyphs">Injection</tspan> <tspan x="1181" y="832.8" textLength="24.26" lengthAdjust="spacingAndGlyphs">well</tspan></text>
<text font-family="'Liberation Sans',sans-serif" font-size="12" font-weight="bold" fill="#4a2c1c" stroke="#4a2c1c" stroke-width="0.35"><tspan x="1285.8" y="965" textLength="71.73" lengthAdjust="spacingAndGlyphs">Production</tspan> <tspan x="1310" y="975" textLength="23.85" lengthAdjust="spacingAndGlyphs">well</tspan></text>
<rect x="1069" y="762.8" width="380" height="226.6" fill="none" stroke="#26221f" stroke-width="2.8"/>
</g>
</g>
</svg>
</body>
</html>
